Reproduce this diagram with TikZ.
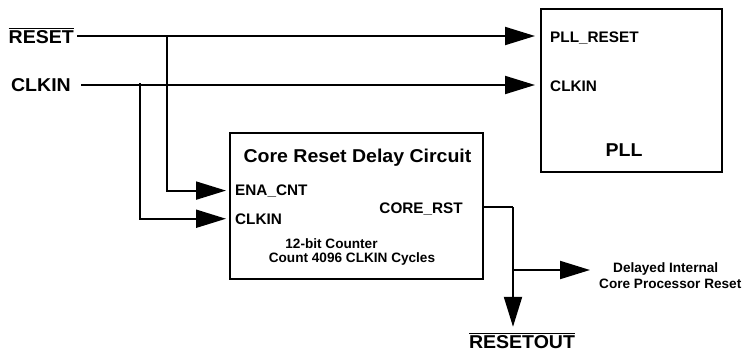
\documentclass[tikz,border=0pt]{standalone}
\usepackage{fontspec}
\setmainfont{Liberation Sans}
\newfontfamily\widefont{Liberation Sans}[FakeStretch=1.05]
\usetikzlibrary{arrows.meta}
\newcommand{\negsig}[1]{$\overline{\mbox{#1}}$}
\tikzset{
  wire/.style={line width=2pt},
  sig/.style={wire,-{Triangle[length=30pt,width=18pt]}},
  blk/.style={draw,line width=2pt,anchor=north west,inner sep=0pt},
  biglbl/.style={inner sep=0pt,font=\widefont\bfseries\fontsize{18.6}{22}\selectfont},
  pinlbl/.style={inner sep=0pt,font=\bfseries\fontsize{15.3}{18}\selectfont},
  smalllbl/.style={inner sep=0pt,font=\bfseries\fontsize{13.6}{16}\selectfont},
}

\begin{document}
\begin{tikzpicture}[x=1pt,y=-1pt]
  \useasboundingbox (0,0) rectangle (747,351);
  % inputs
  \node[biglbl,anchor=base east] (rstin) at (74,43) {\negsig{RESET}};
  \node[biglbl,anchor=base east] (clkin) at (71,91) {CLKIN};
  \coordinate (rstsrc) at (77,36);
  \coordinate (clksrc) at (81,85);
  \coordinate (rstj) at (167,36);
  \coordinate (clkj) at (140,83);
  % PLL
  \node[blk,minimum width=181pt,minimum height=163pt] (pll) at (540,8) {};
  \node[pinlbl,anchor=base west] (pllrst) at (550,42.5) {PLL\_RESET};
  \node[pinlbl,anchor=base west] (pllclk) at (550,91) {CLKIN};
  \node[biglbl,anchor=base] (pllname) at (624,156.5) {PLL};
  % delay circuit
  \node[blk,minimum width=253pt,minimum height=146pt] (core) at (229,132) {};
  \node[biglbl,anchor=base] (coretitle) at (357.5,162) {Core Reset Delay Circuit};
  \node[pinlbl,anchor=base west] (enacnt) at (235,195) {ENA\_CNT};
  \node[pinlbl,anchor=base west] (coreclk) at (235,224) {CLKIN};
  \node[pinlbl,anchor=base east] (corerst) at (463,213) {CORE\_RST};
  \node[smalllbl,anchor=base] (cnt1) at (331.5,248) {12-bit Counter};
  \node[smalllbl,anchor=base] (cnt2) at (352,262) {Count 4096 CLKIN Cycles};
  % outputs
  \node[smalllbl,anchor=base west] (dly1) at (613,272) {Delayed Internal};
  \node[smalllbl,anchor=base west] (dly2) at (599,288) {Core Processor Reset};
  \node[biglbl,anchor=base] (rstout) at (522,348) {\negsig{RESETOUT}};
  \coordinate (outj) at (513,207);
  \coordinate (brj) at (513,270);

  \draw[sig,shorten >=5pt] (rstsrc) -- (rstsrc -| pll.west);
  \draw[sig,shorten >=5pt] (clksrc) -- (clksrc -| pll.west);
  \draw[sig,shorten >=3pt] (rstj) |- (core.west |- enacnt.west);
  \draw[sig,shorten >=3pt] (clkj) |- (core.west |- coreclk.west);
  \draw[wire] (core.east |- outj) -- (outj);
  \draw[sig,shorten >=6pt] (outj) -- (outj |- rstout.north);
  \draw[sig,shorten >=9pt] (brj) -- (brj -| dly2.west);
\end{tikzpicture}
\end{document}
